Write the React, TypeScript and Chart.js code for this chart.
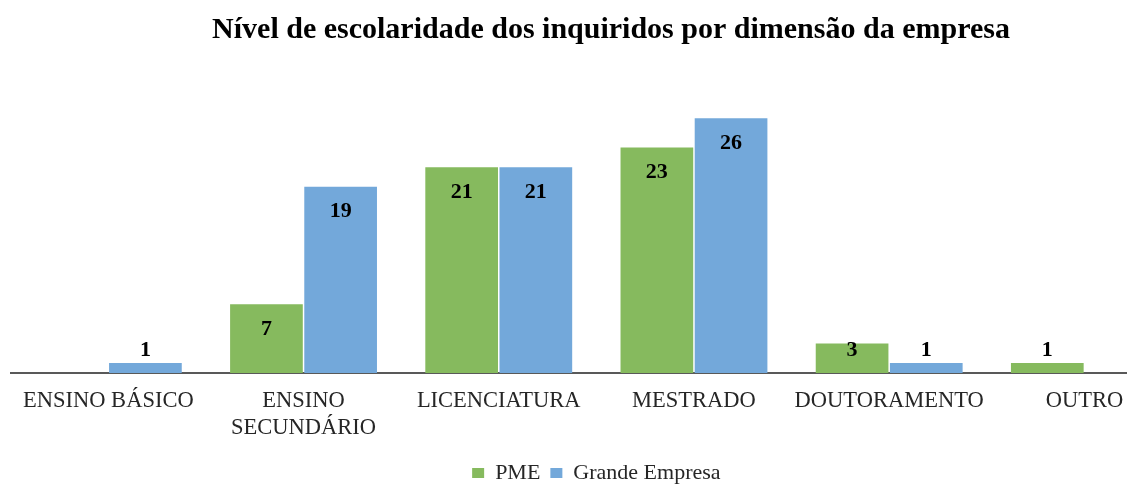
import React, { useEffect, useRef } from "react";
import { Chart, registerables } from "chart.js";

Chart.register(...registerables);

const chartTitle = "Nível de escolaridade dos inquiridos por dimensão da empresa";
const categories: (string | string[])[] = [
  "ENSINO BÁSICO",
  ["ENSINO", "SECUNDÁRIO"],
  "LICENCIATURA",
  "MESTRADO",
  "DOUTORAMENTO",
  "OUTRO",
];
const seriesNames = ["PME", "Grande Empresa"];
const pmeValues = [0, 7, 21, 23, 3, 1];
const grandeValues = [1, 19, 21, 26, 1, 0];
const yMin = 0;
const yMax = 30;

const FONT = "'Liberation Serif', 'Times New Roman', serif";

const valueLabels = {
  id: "valueLabels",
  afterDatasetsDraw(chart: any) {
    const ctx = chart.ctx;
    ctx.save();
    ctx.font = `bold 22px ${FONT}`;
    ctx.fillStyle = "#000";
    ctx.textAlign = "center";
    ctx.textBaseline = "middle";
    chart.data.datasets.forEach((ds: any, di: number) => {
      const meta = chart.getDatasetMeta(di);
      meta.data.forEach((bar: any, i: number) => {
        const v = ds.data[i];
        if (!v) return;
        const { x, y, base } = bar.getProps(["x", "y", "base"], true);
        const ly = Math.min(y + 25, base - 23);
        ctx.fillText(String(v), x, ly);
      });
    });
    ctx.restore();
  },
};

export default function App() {
  const ref = useRef<HTMLCanvasElement | null>(null);

  useEffect(() => {
    if (!ref.current) return;
    const chart = new Chart(ref.current, {
      type: "bar",
      data: {
        labels: categories as any,
        datasets: [
          {
            label: seriesNames[0],
            data: pmeValues,
            backgroundColor: "#86BA5E",
            borderWidth: 0,
            categoryPercentage: 0.76,
            barPercentage: 0.98,
          },
          {
            label: seriesNames[1],
            data: grandeValues,
            backgroundColor: "#73A8DA",
            borderWidth: 0,
            categoryPercentage: 0.76,
            barPercentage: 0.98,
          },
        ],
      },
      options: {
        responsive: false,
        animation: false,
        layout: { padding: 0 },
        plugins: {
          title: {
            display: true,
            text: chartTitle,
            color: "#000",
            font: { family: FONT, size: 30, weight: "bold" },
            padding: { top: 4, bottom: 31 },
          },
          legend: {
            position: "bottom",
            fullSize: false,
            labels: {
              boxWidth: 12,
              boxHeight: 10,
              padding: 10,
              color: "#262626",
              font: { family: FONT, size: 22 },
            },
          },
          tooltip: { enabled: false },
        },
        scales: {
          x: {
            grid: { display: false, drawTicks: false },
            border: { display: true, color: "#595959", width: 2 },
            ticks: {
              autoSkip: false,
              maxRotation: 0,
              minRotation: 0,
              padding: 15,
              color: "#262626",
              font: { family: FONT, size: 22.5, lineHeight: 1.18 },
            },
            afterFit: (s: any) => {
              s.height -= 4;
            },
          },
          y: {
            position: "right",
            min: yMin,
            max: yMax,
            grid: { display: false, drawTicks: false },
            border: { display: false },
            ticks: { display: false },
            afterFit: (s: any) => {
              s.width = 32;
            },
          },
        },
      } as any,
      plugins: [valueLabels],
    });
    return () => chart.destroy();
  }, []);

  return (
    <div
      style={{
        position: "fixed",
        left: 8,
        top: 8,
        width: 1119,
        height: 480,
        overflow: "hidden",
        background: "#fff",
      }}
    >
      <canvas
        ref={ref}
        width={1206}
        height={486}
        style={{ display: "block", width: 1206, height: 486 }}
      />
    </div>
  );
}
